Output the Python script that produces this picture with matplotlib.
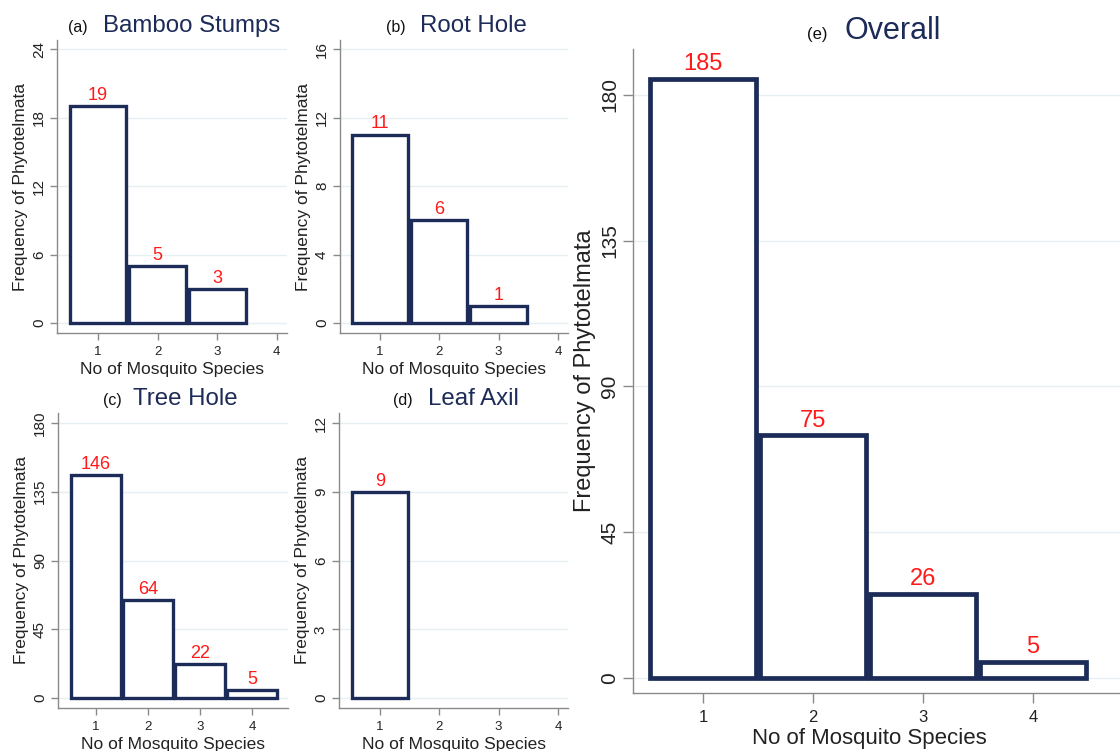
import matplotlib
matplotlib.use("Agg")
import matplotlib.pyplot as plt

plt.rcParams["font.family"] = ["Liberation Sans", "DejaVu Sans"]

# counts of phytotelmata by number of mosquito species found in them
species = [1, 2, 3, 4]
bamboo_stumps = [19, 5, 3]
root_hole = [11, 6, 1]
tree_hole = [146, 64, 22, 5]
leaf_axil = [9]
overall = [185, 75, 26, 5]

yticks_bamboo = [0, 6, 12, 18, 24]
yticks_root = [0, 4, 8, 12, 16]
yticks_tree = [0, 45, 90, 135, 180]
yticks_leaf = [0, 3, 6, 9, 12]
yticks_overall = [0, 45, 90, 135, 180]

NAVY = "#1c2b57"
RED = "#ff1a1a"
AXIS_GREY = "#8a8a8a"
GRID = "#e6eff1"

W, H = 1120, 751
fig = plt.figure(figsize=(W / 100, H / 100), dpi=100)


def px_axes(left, top, right, bottom):
    return fig.add_axes([left / W, 1 - bottom / H, (right - left) / W, (bottom - top) / H])


def panel(ax, counts, yticks, xlim, ylim, big=False):
    n = len(counts)
    lw = 3.4 if big else 2.4
    width = 0.96 if big else 0.95
    for y in yticks:
        ax.axhline(y, color=GRID, lw=1.0, zorder=0)
    ax.bar(species[:n], counts, width=width, facecolor="white",
           edgecolor=NAVY, linewidth=lw, zorder=2)
    for x, c in zip(species[:n], counts):
        ax.annotate(str(c), (x, c), xytext=(0, 6 if big else 4.5),
                    textcoords="offset points", ha="center", va="baseline",
                    color=RED, fontsize=17 if big else 13, zorder=3)
    ax.set_xlim(*xlim)
    ax.set_ylim(*ylim)
    ax.set_xticks(species)
    ax.set_yticks(yticks)
    ax.set_yticklabels([str(t) for t in yticks], rotation=90, va="center")
    for s in ("top", "right"):
        ax.spines[s].set_visible(False)
    for s in ("left", "bottom"):
        ax.spines[s].set_color(AXIS_GREY)
        ax.spines[s].set_linewidth(1.0)
    ax.tick_params(axis="y", direction="out", length=7 if big else 5, width=1,
                   color=AXIS_GREY, labelcolor="#222222",
                   labelsize=15 if big else 11, pad=3)
    ax.tick_params(axis="x", direction="out", length=7 if big else 5, width=1,
                   color=AXIS_GREY, labelcolor="#222222",
                   labelsize=12 if big else 9.5, pad=5 if big else 4)
    ax.set_ylabel("Frequency of Phytotelmata", fontsize=17 if big else 12.5,
                  color="#222222")
    ax.set_xlabel("No of Mosquito Species", fontsize=16 if big else 12.5,
                  color="#222222", labelpad=0)


def title(tag, name, x_tag, x_name, baseline, big=False):
    fig.text(x_tag / W, 1 - baseline / H, tag, fontsize=12 if big else 11.5,
             color="#111111", va="baseline", ha="left")
    fig.text(x_name / W, 1 - baseline / H, name, fontsize=22 if big else 17.3,
             color=NAVY, va="baseline", ha="left")


ax_a = px_axes(57, 40, 287, 333)
panel(ax_a, bamboo_stumps, yticks_bamboo, (0.313, 4.17), (-0.876, 24.79))
ax_b = px_axes(340, 40, 568, 333)
panel(ax_b, root_hole, yticks_root, (0.326, 4.17), (-0.584, 16.53))
ax_c = px_axes(58, 413, 288, 708)
panel(ax_c, tree_hole, yticks_tree, (0.27, 4.69), (-6.5, 186.5))
ax_d = px_axes(339, 413, 568, 708)
panel(ax_d, leaf_axil, yticks_leaf, (0.31, 4.17), (-0.436, 12.44))
ax_e = px_axes(633, 49, 1120, 693)
panel(ax_e, overall, yticks_overall, (0.364, 4.79), (-4.63, 194.2), big=True)

for ax in (ax_a, ax_b, ax_c, ax_d):
    ax.yaxis.set_label_coords(-0.126, 0.5)
    ax.xaxis.set_label_coords(0.5, -0.10)
ax_e.yaxis.set_label_coords(-0.075, 0.5)
ax_e.xaxis.set_label_coords(0.485, -0.055)

title("(a)", "Bamboo Stumps", 68, 103, 32)
title("(b)", "Root Hole", 386, 420, 32)
title("(c)", "Tree Hole", 103, 133, 405)
title("(d)", "Leaf Axil", 393, 428, 405)
title("(e)", "Overall", 807, 845, 39, big=True)

fig.savefig("out.png", dpi=100, facecolor="white")
